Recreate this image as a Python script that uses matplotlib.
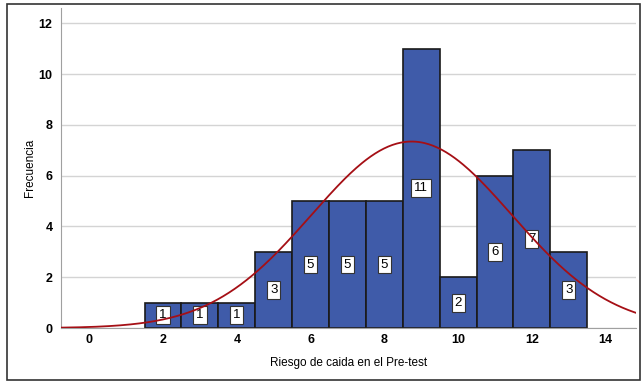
import numpy as np
import matplotlib
matplotlib.use("Agg")
import matplotlib.pyplot as plt
from matplotlib.patches import Rectangle

# data
scores = [2, 3, 4, 5, 6, 7, 8, 9, 10, 11, 12, 13]
counts = [1, 1, 1, 3, 5, 5, 5, 11, 2, 6, 7, 3]
xticks = [0, 2, 4, 6, 8, 10, 12, 14]
yticks = [0, 2, 4, 6, 8, 10, 12]

plt.rcParams["font.family"] = ["Liberation Sans", "DejaVu Sans"]

x = np.array(scores, dtype=float)
n = np.array(counts, dtype=float)
N = n.sum()
mu = (x * n).sum() / N
sd = np.sqrt(((x - mu) ** 2 * n).sum() / (N - 1))

fig = plt.figure(figsize=(6.41, 3.81), dpi=100)
ax = fig.add_axes([0.095, 0.139, 0.897, 0.84])

ax.grid(axis="y", color="#d4d4d4", lw=1.0, zorder=0)
ax.bar(x, n, width=1.0, color="#3f5ba9", edgecolor="#1a1a1a", lw=1.2, zorder=2)

xs = np.linspace(-0.8, 14.85, 400)
ys = N * 1.0 / (sd * np.sqrt(2 * np.pi)) * np.exp(-0.5 * ((xs - mu) / sd) ** 2)
ax.plot(xs, ys, color="#a50f15", lw=1.3, zorder=4)

for xi, ni in zip(scores, counts):
    ax.text(xi, ni / 2, str(ni), ha="center", va="center", fontsize=9.5, zorder=3,
            bbox=dict(boxstyle="square,pad=0.22", fc="white", ec="#333333", lw=0.8))

ax.set_xlim(-0.77, 14.82)
ax.set_ylim(0, 12.6)
ax.set_xticks(xticks)
ax.set_yticks(yticks)
ax.tick_params(length=0, labelsize=9)
ax.tick_params(axis="x", pad=4)
ax.tick_params(axis="y", pad=6)
for lab in ax.get_xticklabels() + ax.get_yticklabels():
    lab.set_fontweight("bold")
for s in ["top", "right"]:
    ax.spines[s].set_visible(False)
ax.spines["left"].set_color("#a0a0a0")
ax.spines["bottom"].set_color("#a0a0a0")
ax.set_xlabel("Riesgo de caida en el Pre-test", fontsize=8.5, labelpad=8)
ax.set_ylabel("Frecuencia", fontsize=8.5, labelpad=2)

fig.patches.append(Rectangle((7 / 641, 1 / 381), 633 / 641, 376 / 381, transform=fig.transFigure,
                             fill=False, ec="#333333", lw=1.2))

fig.savefig("out.png", dpi=100)
